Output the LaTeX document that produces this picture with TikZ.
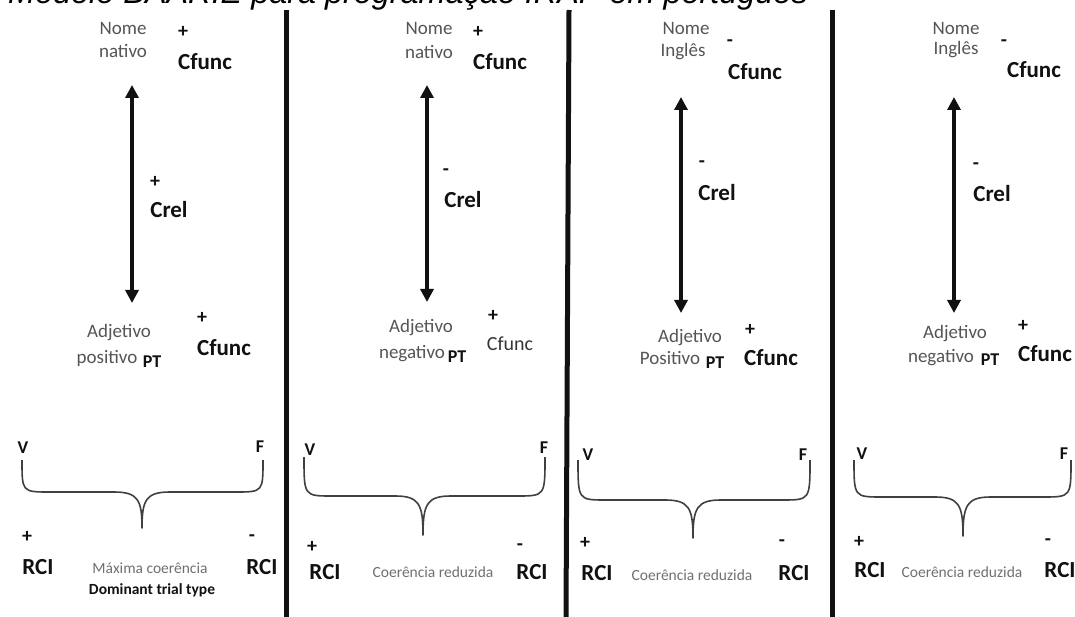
\documentclass[tikz,border=0pt]{standalone}
\usepackage{fontspec}
\setmainfont{Carlito}
\newfontfamily\titlefont{Liberation Sans}
\usetikzlibrary{arrows.meta}
\definecolor{lbl}{HTML}{555555}
\definecolor{lbllight}{HTML}{707070}
\definecolor{ink}{HTML}{111111}
\newcommand{\drawbrace}[6]{%
  \draw[brace] (#1,#3) .. controls (#1,#4) .. (#1+28,#4) -- (#5-28,#4)
    .. controls (#5-4,#4) and (#5,#4+8) .. (#5,#6)
    .. controls (#5,#4+8) and (#5+4,#4) .. (#5+28,#4) -- (#2-28,#4)
    .. controls (#2,#4) .. (#2,#3);}
\begin{document}
\begin{tikzpicture}[x=1pt,y=-1pt,
  t/.style={inner sep=0pt, anchor=center},
  reg/.style={t, font=\fontsize{19}{21}\selectfont, text=lbl},
  regdark/.style={t, font=\fontsize{20}{22}\selectfont, text=ink!85},
  bld/.style={t, font=\fontsize{23}{26}\selectfont\bfseries, text=ink},
  sgn/.style={t, font=\fontsize{20}{22}\selectfont\bfseries, text=ink},
  ptlabel/.style={t, font=\fontsize{18}{20}\selectfont\bfseries, text=ink},
  vf/.style={t, font=\fontsize{18}{20}\selectfont\bfseries, text=ink},
  note/.style={t, font=\fontsize{15.5}{18}\selectfont, text=lbllight},
  notebold/.style={t, font=\fontsize{15.5}{18}\selectfont\bfseries, text=ink},
  divider/.style={line width=5pt, draw=ink},
  dbl/.style={line width=3.5pt, draw=ink, {Triangle[width=13pt,length=13pt]}-{Triangle[width=13pt,length=13pt]}},
  brace/.style={line width=1.6pt, draw=black!75, line join=round}
]
\useasboundingbox (0,0) rectangle (1075,617);
\fill[white] (0,0) rectangle (1075,617);

% title (clipped at top)
\node[anchor=base west, inner sep=0pt, font=\titlefont\itshape\fontsize{32.4}{36}\selectfont] (title) at (8,4) {Modelo BAARIE para programação IRAP em português};

% dividers
\draw[divider] (286,10) -- (286,617);
\draw[divider] (569,10) -- (566,617);
\draw[divider] (832,10) -- (832,617);

% ---------- panel 1 ----------
\node[reg] (n1a) at (123,28) {Nome};
\node[reg] (n1b) at (123,51) {nativo};
\node[sgn] (n1s) at (183,32) {+};
\node[bld] (n1c) at (205,62) {Cfunc};
\coordinate (a1t) at (132,85);
\coordinate (a1b) at (132,303);
\draw[dbl] (a1t) -- (a1b);
\node[sgn] (r1s) at (155,182) {+};
\node[bld] (r1c) at (169,210) {Crel};
\node[reg] (j1a) at (119,333) {Adjetivo};
\node[reg] (j1b) at (107,358) {positivo};
\node[ptlabel] (j1p) at (152,362) {PT};
\node[sgn] (f1s) at (202,318) {+};
\node[bld] (f1c) at (224,348) {Cfunc};
\node[vf] (v1) at (23,448) {V};
\node[vf] (F1) at (260,447) {F};
\drawbrace{22}{263}{460}{492}{142}{528}
\node[sgn] (p1s) at (27,537) {+};
\node[bld] (p1r) at (38,567) {RCI};
\node[sgn] (m1s) at (252,538) {-};
\node[bld] (m1r) at (262,567) {RCI};
\node[note] (c1) at (150,568) {Máxima coerência};
\node[notebold] (d1) at (152,590) {Dominant trial type};

% ---------- panel 2 ----------
\node[reg] (n2a) at (429,28) {Nome};
\node[reg] (n2b) at (429,52) {nativo};
\node[sgn] (n2s) at (478,32) {+};
\node[bld] (n2c) at (500,62) {Cfunc};
\coordinate (a2t) at (427,85);
\coordinate (a2b) at (427,302);
\draw[dbl] (a2t) -- (a2b);
\node[sgn] (r2s) at (446,172) {-};
\node[bld] (r2c) at (463,200) {Crel};
\node[reg] (j2a) at (421,328) {Adjetivo};
\node[reg] (j2b) at (412,354) {negativo};
\node[ptlabel] (j2p) at (457,357) {PT};
\node[sgn] (f2s) at (493,316) {+};
\node[regdark] (f2c) at (510,344) {Cfunc};
\node[vf] (v2) at (310,450) {V};
\node[vf] (F2) at (544,448) {F};
\drawbrace{304}{545}{457}{496}{423}{535}
\node[sgn] (p2s) at (312,547) {+};
\node[bld] (p2r) at (325,572) {RCI};
\node[sgn] (m2s) at (520,547) {-};
\node[bld] (m2r) at (532,572) {RCI};
\node[note] (c2) at (433,572) {Coerência reduzida};

% ---------- panel 3 ----------
\node[reg] (n3a) at (686,28) {Nome};
\node[reg] (n3b) at (683,52) {Inglês};
\node[sgn] (n3s) at (730,43) {-};
\node[bld] (n3c) at (755,72) {Cfunc};
\coordinate (a3t) at (681,97);
\coordinate (a3b) at (681,313);
\draw[dbl] (a3t) -- (a3b);
\node[sgn] (r3s) at (702,164) {-};
\node[bld] (r3c) at (717,193) {Crel};
\node[reg] (j3a) at (690,338) {Adjetivo};
\node[reg] (j3b) at (670,358) {Positivo};
\node[ptlabel] (j3p) at (715,363) {PT};
\node[sgn] (f3s) at (750,330) {+};
\node[bld] (f3c) at (771,358) {Cfunc};
\node[vf] (v3) at (588,455) {V};
\node[vf] (F3) at (803,455) {F};
\drawbrace{578}{810}{460}{500}{693}{538}
\node[sgn] (p3s) at (585,543) {+};
\node[bld] (p3r) at (597,573) {RCI};
\node[sgn] (m3s) at (782,543) {-};
\node[bld] (m3r) at (794,573) {RCI};
\node[note] (c3) at (692,575) {Coerência reduzida};

% ---------- panel 4 ----------
\node[reg] (n4a) at (956,28) {Nome};
\node[reg] (n4b) at (956,50) {Inglês};
\node[sgn] (n4s) at (1004,43) {-};
\node[bld] (n4c) at (1034,70) {Cfunc};
\coordinate (a4t) at (954,97);
\coordinate (a4b) at (954,313);
\draw[dbl] (a4t) -- (a4b);
\node[sgn] (r4s) at (976,166) {-};
\node[bld] (r4c) at (992,194) {Crel};
\node[reg] (j4a) at (955,334) {Adjetivo};
\node[reg] (j4b) at (941,358) {negativo};
\node[ptlabel] (j4p) at (990,360) {PT};
\node[sgn] (f4s) at (1023,326) {+};
\node[bld] (f4c) at (1045,354) {Cfunc};
\node[vf] (v4) at (862,454) {V};
\node[vf] (F4) at (1064,454) {F};
\drawbrace{854}{1071}{460}{497}{963}{536}
\node[sgn] (p4s) at (859,542) {+};
\node[bld] (p4r) at (870,570) {RCI};
\node[sgn] (m4s) at (1048,542) {-};
\node[bld] (m4r) at (1060,570) {RCI};
\node[note] (c4) at (962,572) {Coerência reduzida};
\end{tikzpicture}
\end{document}
